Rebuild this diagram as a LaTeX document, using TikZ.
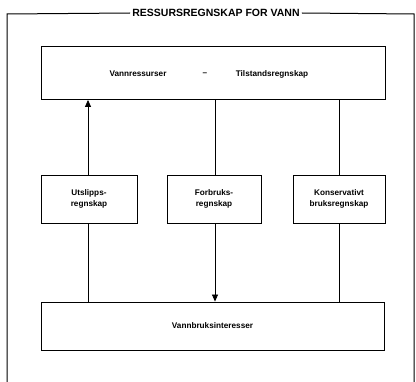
\documentclass[tikz,border=0pt]{standalone}
\usepackage{fontspec}
\setmainfont{Liberation Sans}
\usetikzlibrary{arrows.meta}
\begin{document}
\begin{tikzpicture}[x=1pt,y=-1pt,
	boks/.style={draw,line width=0.9pt,inner sep=0pt},
	tekst/.style={font=\fontsize{8.2}{10.5}\bfseries\selectfont,align=center},
	pil/.style={-{Triangle[width=6pt,length=7pt]}},
	linje/.style={line width=0.7pt}]
				\useasboundingbox (0,0) rectangle (416,382);
				% ramme med tittel
				\node[font=\fontsize{10.5}{12}\bfseries\selectfont,inner sep=2pt] (tittel) at (216,13) {RESSURSREGNSKAP FOR VANN};
				\draw[line width=1pt] (tittel.west) -- (7,14) -- (7,382);
				\draw[line width=1pt] (tittel.east) -- (414,14) -- (414,382);
				% bokser
				\node[boks,minimum width=344pt,minimum height=53pt] (tilstand) at (213,73) {};
				\node[boks,minimum width=96pt,minimum height=48pt] (utslipp) at (89,199) {};
				\node[boks,minimum width=94pt,minimum height=48pt] (forbruk) at (214,199) {};
				\node[boks,minimum width=92pt,minimum height=48pt] (konserv) at (339,199) {};
				\node[boks,minimum width=343pt,minimum height=48pt] (interesser) at (212.5,326) {};
				% tekster
				\path (138,74)node[tekst] (t1) {Vannressurser}
				(205,74)node[tekst] (t2) {--}
				(272,74)node[tekst] (t3) {Tilstandsregnskap}
				(utslipp)node[tekst] (t4) {Utslipps-\\regnskap}
				(forbruk)node[tekst] (t5) {Forbruks-\\regnskap}
				(konserv)node[tekst] (t6) {Konservativt\\bruksregnskap}
				(interesser)node[tekst] (t7) {Vannbruksinteresser}
				;
				% forbindelser
				\draw[linje,pil] (utslipp.north -| 88,0) -- (tilstand.south -| 88,0);
				\draw[linje] (utslipp.south -| 88,0) -- (interesser.north -| 88,0);
				\draw[linje] (tilstand.south -| 215,0) -- (forbruk.north -| 215,0);
				\draw[linje,pil] (forbruk.south -| 215,0) -- (interesser.north -| 215,0);
				\draw[linje] (tilstand.south -| 339,0) -- (konserv.north -| 339,0);
				\draw[linje] (konserv.south -| 339,0) -- (interesser.north -| 339,0);
\end{tikzpicture}
\end{document}
